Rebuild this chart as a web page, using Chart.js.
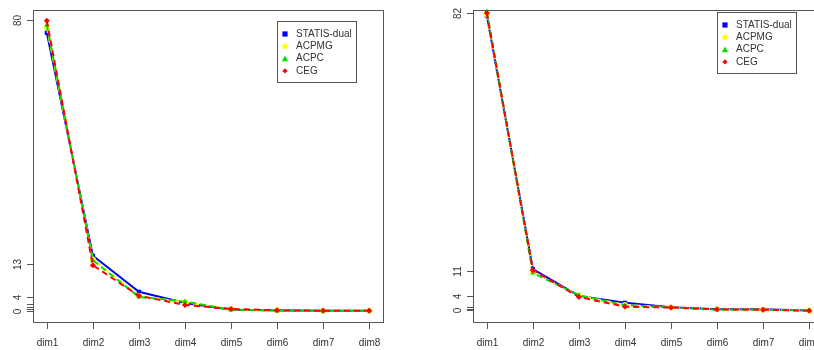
<!DOCTYPE html>
<html>
<head>
<meta charset="utf-8">
<script src="https://cdn.jsdelivr.net/npm/chart.js@4/dist/chart.umd.min.js"></script>
<style>
  html, body { margin: 0; padding: 0; background: #fff; width: 814px; height: 350px; overflow: hidden; }
  .panel { position: absolute; top: 0; width: 410px; height: 350px; }
  #leftWrap { left: 0; }
  #rightWrap { left: 440px; }
</style>
</head>
<body>
<div class="panel" id="leftWrap"><canvas id="leftChart" width="410" height="350"></canvas></div>
<div class="panel" id="rightWrap"><canvas id="rightChart" width="410" height="350"></canvas></div>
<script>
// Categories
const dims = ['dim1', 'dim2', 'dim3', 'dim4', 'dim5', 'dim6', 'dim7', 'dim8'];
const seriesNames = ['STATIS-dual', 'ACPMG', 'ACPC', 'CEG'];

// Left panel values
const statisLeft = [76.5, 15.2, 5.3, 2.2, 0.4, 0.2, 0.1, 0.1];
const acpmgLeft  = [78.0, 14.2, 4.2, 2.4, 0.5, 0.2, 0.1, 0.1];
const acpcLeft   = [78.6, 14.0, 3.9, 2.6, 0.4, 0.1, 0.1, 0.1];
const cegLeft    = [79.8, 12.6, 4.2, 1.7, 0.6, 0.2, 0.1, 0.1];

// Right panel values
const statisRight = [81.4, 11.4, 4.0, 2.1, 0.9, 0.3, 0.3, 0.0];
const acpmgRight  = [81.8, 10.7, 4.1, 1.5, 0.8, 0.3, 0.2, 0.0];
const acpcRight   = [82.5, 10.3, 4.2, 1.4, 0.8, 0.2, 0.2, 0.0];
const cegRight    = [82.1, 11.1, 3.7, 1.0, 0.8, 0.3, 0.2, -0.1];

// Y axis ticks (R style: ticks at values, overlapping labels dropped)
const leftTicks  = [0, 0.5, 1.2, 2, 4, 13, 80];
const leftTickLabels  = ['0', '', '', '', '4', '13', '80'];
const rightTicks = [0, 0.4, 1, 4, 11, 82];
const rightTickLabels = ['0', '', '', '4', '11', '82'];

const colors = ['#0000ff', '#ffff00', '#00e000', '#ff0000'];
const pointStyles = ['rect', 'circle', 'triangle', 'rectRot'];
const dashes = [[], [6, 4], [6, 4], [6, 4]];

const FONT = '10px "Liberation Sans", Arial, sans-serif';

// Draw the R-like frame, axes and legend
const rAxesPlugin = {
  id: 'rAxes',
  afterDraw(chart) {
    const { ctx, chartArea: a, scales } = chart;
    const o = chart.options.plugins.rAxes;
    ctx.save();
    ctx.strokeStyle = '#555';
    ctx.lineWidth = 1;
    ctx.strokeRect(a.left + 0.5, a.top + 0.5, a.right - a.left, a.bottom - a.top);

    ctx.fillStyle = '#333';
    ctx.font = FONT;

    // x ticks
    ctx.textAlign = 'center';
    ctx.textBaseline = 'middle';
    dims.forEach((d, i) => {
      const x = Math.round(scales.x.getPixelForValue(i + 1)) + 0.5;
      ctx.beginPath();
      ctx.moveTo(x, a.bottom);
      ctx.lineTo(x, a.bottom + 7);
      ctx.stroke();
      ctx.fillText(d, x, a.bottom + 21);
    });

    // y ticks
    o.ticks.forEach((v, i) => {
      const y = Math.round(scales.y.getPixelForValue(v)) + 0.5;
      ctx.beginPath();
      ctx.moveTo(a.left - 6, y);
      ctx.lineTo(a.left, y);
      ctx.stroke();
      if (o.labels[i]) {
        ctx.save();
        ctx.translate(a.left - 15, y);
        ctx.rotate(-Math.PI / 2);
        ctx.fillText(o.labels[i], 0, 0);
        ctx.restore();
      }
    });

    // legend
    const lx = a.left + 244, ly = o.legendTop;
    ctx.fillStyle = '#fff';
    ctx.fillRect(lx, ly, 79, 61);
    ctx.strokeStyle = '#555';
    ctx.strokeRect(lx + 0.5, ly + 0.5, 79, 61);
    ctx.textAlign = 'left';
    chart.data.datasets.forEach((ds, i) => {
      const y = ly + 13 + i * 12.3;
      ctx.fillStyle = ds.borderColor;
      drawMarker(ctx, ds.pointStyle, lx + 8, y, 2.6);
      ctx.fillStyle = '#333';
      ctx.fillText(ds.label, lx + 19, y);
    });
    ctx.restore();
  }
};

function drawMarker(ctx, style, x, y, r) {
  ctx.beginPath();
  if (style === 'rect') {
    ctx.rect(x - r, y - r, 2 * r, 2 * r);
  } else if (style === 'circle') {
    ctx.arc(x, y, r, 0, Math.PI * 2);
  } else if (style === 'triangle') {
    ctx.moveTo(x, y - r - 0.5);
    ctx.lineTo(x + r + 0.5, y + r);
    ctx.lineTo(x - r - 0.5, y + r);
    ctx.closePath();
  } else {
    ctx.moveTo(x, y - r);
    ctx.lineTo(x + r, y);
    ctx.lineTo(x, y + r);
    ctx.lineTo(x - r, y);
    ctx.closePath();
  }
  ctx.fill();
}

function buildChart(id, values, yMin, yMax, ticks, labels, legendTop) {
  const datasets = values.map((vals, i) => ({
    label: seriesNames[i],
    data: vals.map((v, j) => ({ x: j + 1, y: v })),
    borderColor: colors[i],
    backgroundColor: colors[i],
    borderWidth: 2,
    borderDash: dashes[i],
    pointStyle: pointStyles[i],
    pointRadius: 3,
    pointBorderWidth: 0,
    tension: 0,
    clip: false,
    order: 3 - i
  }));

  new Chart(document.getElementById(id), {
    type: 'line',
    data: { datasets },
    options: {
      responsive: false,
      animation: false,
      events: [],
      layout: { padding: { left: 33, top: 10, right: 27, bottom: 28 } },
      scales: {
        x: { type: 'linear', min: 0.7, max: 8.3, display: false },
        y: { type: 'linear', min: yMin, max: yMax, display: false }
      },
      plugins: {
        legend: { display: false },
        tooltip: { enabled: false },
        rAxes: { ticks, labels, legendTop }
      }
    },
    plugins: [rAxesPlugin]
  });
}

buildChart('leftChart', [statisLeft, acpmgLeft, acpcLeft, cegLeft], -3.0, 82.75, leftTicks, leftTickLabels, 21);
buildChart('rightChart', [statisRight, acpmgRight, acpcRight, cegRight], -3.2, 82.9, rightTicks, rightTickLabels, 12);
</script>
</body>
</html>
